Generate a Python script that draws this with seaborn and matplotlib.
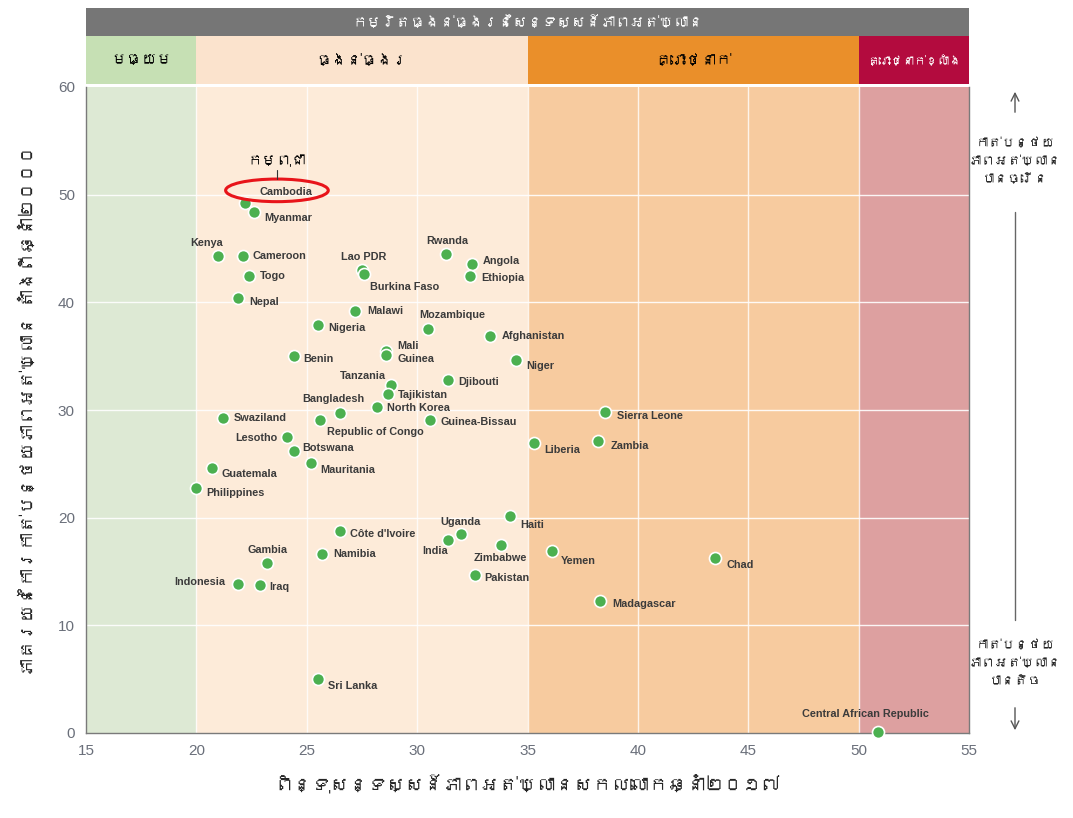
import numpy as np
import pandas as pd
import matplotlib
matplotlib.use("Agg")
import matplotlib.pyplot as plt
import seaborn as sns
from matplotlib import font_manager
from matplotlib.patches import Ellipse, Rectangle

# --- Data ---
countries = ["Cambodia", "Myanmar", "Kenya", "Cameroon", "Togo", "Nepal", "Lao PDR",
             "Burkina Faso", "Rwanda", "Angola", "Ethiopia", "Malawi", "Nigeria",
             "Mozambique", "Afghanistan", "Mali", "Guinea", "Benin", "Niger", "Tanzania",
             "Djibouti", "Tajikistan", "North Korea", "Bangladesh", "Swaziland",
             "Republic of Congo", "Guinea-Bissau", "Lesotho", "Botswana", "Mauritania",
             "Guatemala", "Philippines", "Liberia", "Sierra Leone", "Zambia", "Haiti",
             "Côte d'Ivoire", "Uganda", "India", "Zimbabwe", "Yemen", "Namibia", "Gambia",
             "Pakistan", "Indonesia", "Iraq", "Sri Lanka", "Chad", "Madagascar",
             "Central African Republic"]
ghi_2017 = [22.2, 22.6, 21.0, 22.1, 22.4, 21.9, 27.5, 27.6, 31.3, 32.5, 32.4, 27.2, 25.5,
            30.5, 33.3, 28.6, 28.6, 24.4, 34.5, 28.8, 31.4, 28.7, 28.2, 26.5, 21.2, 25.6,
            30.6, 24.1, 24.4, 25.2, 20.7, 20.0, 35.3, 38.5, 38.2, 34.2, 26.5, 32.0, 31.4,
            33.8, 36.1, 25.7, 23.2, 32.6, 21.9, 22.9, 25.5, 43.5, 38.3, 50.9]
reduction = [49.2, 48.4, 44.3, 44.3, 42.4, 40.4, 43.0, 42.6, 44.5, 43.6, 42.4, 39.2, 37.9,
             37.5, 36.9, 35.5, 35.1, 35.0, 34.6, 32.3, 32.8, 31.5, 30.3, 29.7, 29.3, 29.1,
             29.1, 27.5, 26.2, 25.1, 24.6, 22.8, 26.9, 29.8, 27.1, 20.2, 18.8, 18.5, 17.9,
             17.5, 16.9, 16.6, 15.8, 14.7, 13.8, 13.7, 5.0, 16.3, 12.3, 0.1]

bands = ["មធ្យម", "ធ្ងន់ធ្ងរ", "គ្រោះថ្នាក់", "គ្រោះថ្នាក់ខ្លាំង"]
band_edges = [15, 20, 35, 50, 55]
header_colors = ["#c6e0b4", "#fbe3cd", "#ea8f2a", "#b30b3e"]
body_colors = ["#dde9d4", "#fdebd9", "#f7cb9f", "#dda0a0"]

df = pd.DataFrame({"country": countries, "ghi": ghi_2017, "reduction": reduction})

# label offsets in pixels (dx right, dy down) and alignment
offsets = {
    "Myanmar": (10, 6, "left"), "Kenya": (4, -13, "right"), "Cameroon": (10, 0, "left"),
    "Togo": (11, 0, "left"), "Nepal": (11, 4, "left"), "Lao PDR": (2, -13, "center"),
    "Burkina Faso": (6, 13, "left"), "Rwanda": (1, -13, "center"), "Angola": (10, -3, "left"),
    "Ethiopia": (11, 2, "left"), "Malawi": (12, 0, "left"), "Nigeria": (10, 3, "left"),
    "Mozambique": (-9, -14, "left"), "Afghanistan": (12, 0, "left"), "Mali": (11, -5, "left"),
    "Guinea": (11, 4, "left"), "Benin": (10, 3, "left"), "Niger": (10, 6, "left"),
    "Tanzania": (-5, -9, "right"), "Djibouti": (10, 2, "left"), "Tajikistan": (9, 1, "left"),
    "North Korea": (10, 1, "left"), "Bangladesh": (-7, -14, "center"),
    "Swaziland": (11, 0, "left"), "Republic of Congo": (7, 12, "left"),
    "Guinea-Bissau": (10, 2, "left"), "Lesotho": (-9, 1, "right"), "Botswana": (9, -3, "left"),
    "Mauritania": (9, 7, "left"), "Guatemala": (10, 6, "left"), "Philippines": (10, 5, "left"),
    "Liberia": (10, 7, "left"), "Sierra Leone": (12, 4, "left"), "Zambia": (12, 5, "left"),
    "Haiti": (10, 9, "left"), "Côte d'Ivoire": (10, 3, "left"), "Uganda": (-1, -12, "center"),
    "India": (0, 11, "right"), "Zimbabwe": (-1, 13, "center"), "Yemen": (9, 10, "left"),
    "Namibia": (11, 0, "left"), "Gambia": (0, -13, "center"), "Pakistan": (10, 3, "left"),
    "Indonesia": (-13, -2, "right"), "Iraq": (9, 2, "left"), "Sri Lanka": (10, 7, "left"),
    "Chad": (11, 7, "left"), "Madagascar": (12, 3, "left"),
    "Central African Republic": (-13, -18, "center"), "Cambodia": (41, -11, "center"),
}

# --- Fonts ---
sns.set_theme(style="white")


def find_khmer_font():
    for f in font_manager.fontManager.ttflist:
        try:
            if ord("ក") in font_manager.get_font(f.fname).get_charmap():
                return f.name
        except Exception:
            pass
    return None


khmer = find_khmer_font()
families = ([khmer] if khmer else []) + ["Liberation Sans", "DejaVu Sans"]
plt.rcParams["font.family"] = families
latin = ["Liberation Sans", "DejaVu Sans"]

# --- Figure ---
W, H = 1073, 818
fig = plt.figure(figsize=(W / 100, H / 100), dpi=100)
L, R, T, B = 86, 969, 87, 733
ax = fig.add_axes([L / W, 1 - B / H, (R - L) / W, (B - T) / H])

for i in range(4):
    ax.axvspan(band_edges[i], band_edges[i + 1], color=body_colors[i], zorder=0, lw=0)
for xv in range(20, 55, 5):
    ax.axvline(xv, color="white", lw=1, alpha=0.8, zorder=1)
for yv in range(10, 60, 10):
    ax.axhline(yv, color="white", lw=1, alpha=0.9, zorder=1)

sns.scatterplot(data=df, x="ghi", y="reduction", ax=ax, s=75, color="#4cb050",
                edgecolor="white", linewidth=1.2, zorder=3, clip_on=False)

for c, xv, yv in zip(countries, ghi_2017, reduction):
    dx, dy, ha = offsets[c]
    ax.annotate(c, (xv, yv), xytext=(dx, -dy), textcoords="offset pixels",
                ha=ha, va="center", fontsize=7.8, fontweight="bold", color="#3b3b3b",
                family=latin, zorder=4)

# Cambodia highlight
ax.add_patch(Ellipse((23.65, 50.4), 4.65, 2.1, fill=False, ec="#e8141a", lw=2.2, zorder=5))
ax.text(23.65, 52.6, "កម្ពុជា", ha="center", va="bottom", fontsize=10.5, color="black")
ax.plot([23.65, 23.65], [51.45, 52.3], color="#333333", lw=0.8, zorder=5)

ax.set_xlim(15, 55)
ax.set_ylim(0, 60)
ax.set_xticks(range(15, 56, 5))
ax.set_yticks(range(0, 61, 10))
ax.tick_params(labelsize=11, colors="#6a6f7a", length=0, pad=8)
for lab in ax.get_xticklabels() + ax.get_yticklabels():
    lab.set_family(latin)
for side in ["left", "bottom", "right"]:
    ax.spines[side].set_color("#7a7a7a")
    ax.spines[side].set_linewidth(1)
ax.spines["top"].set_visible(False)
ax.set_xlabel("ពិន្ទុសន្ទស្សន៍ភាពអត់ឃ្លានសកលលោកឆ្នាំ២០១៧", fontsize=13.5, labelpad=12)
ax.set_ylabel("ភាគរយនៃការកាត់បន្ថយភាពអត់ឃ្លាន តាំងពីឆ្នាំ២០០០", fontsize=13, labelpad=16)

# header bands
hax = fig.add_axes([L / W, 1 - 84 / H, (R - L) / W, (84 - 8) / H])
hax.set_xlim(15, 55)
hax.set_ylim(0, 76)
hax.axis("off")
hax.add_patch(Rectangle((14.85, 48), 40.15, 28, color="#767676", lw=0))
hax.text(35, 62, "កម្រិតធ្ងន់ធ្ងរនៃសន្ទស្សន៍ភាពអត់ឃ្លាន", ha="center", va="center",
         color="white", fontsize=10.5)
band_sizes = [11, 11, 11, 8.5]
for i in range(4):
    x0, x1 = band_edges[i], band_edges[i + 1]
    hax.add_patch(Rectangle((x0, 0), x1 - x0, 48, color=header_colors[i], lw=0))
    hax.text((x0 + x1) / 2, 24, bands[i], ha="center", va="center", fontsize=band_sizes[i],
             fontweight="bold", color="white" if i == 3 else "black")

# right-hand annotation
xr = 1015 / W
fig.text(xr, 1 - 161 / H, "កាត់បន្ថយ\nភាពអត់ឃ្លាន\nបានច្រើន", ha="center", va="center",
         fontsize=9.5, linespacing=1.6)
fig.text(xr, 1 - 663 / H, "កាត់បន្ថយ\nភាពអត់ឃ្លាន\nបានតិច", ha="center", va="center",
         fontsize=9.5, linespacing=1.6)
fig.add_artist(plt.Line2D([xr, xr], [1 - 212 / H, 1 - 620 / H], color="#666666", lw=1))
fig.add_artist(matplotlib.patches.FancyArrowPatch((xr, 1 - 115 / H), (xr, 1 - 89 / H),
               transform=fig.transFigure, arrowstyle="->", mutation_scale=14,
               color="#555555", lw=1))
fig.add_artist(matplotlib.patches.FancyArrowPatch((xr, 1 - 705 / H), (xr, 1 - 733 / H),
               transform=fig.transFigure, arrowstyle="->", mutation_scale=14,
               color="#555555", lw=1))

fig.savefig("out.png", dpi=100, facecolor="white")
